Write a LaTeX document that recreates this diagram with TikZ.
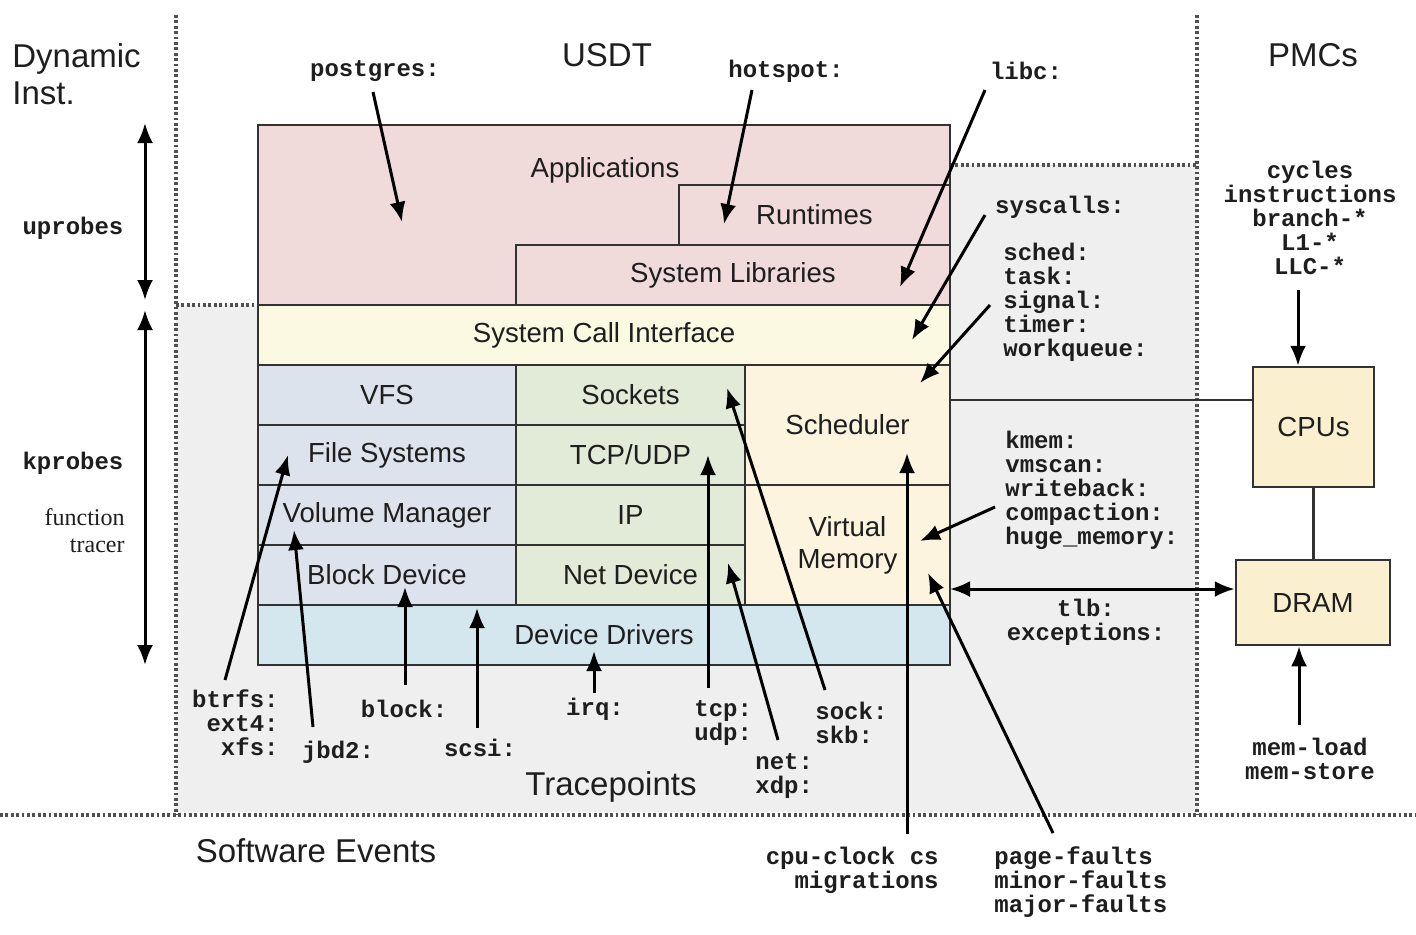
\documentclass[tikz,border=0pt]{standalone}
\usepackage{fontspec}
\setmainfont{Liberation Sans}
\setmonofont{Liberation Mono}
\newfontfamily\serifface{Liberation Serif}
\usetikzlibrary{arrows.meta}

\definecolor{ink}{RGB}{30,30,30}
\definecolor{boxline}{RGB}{50,50,50}
\definecolor{dotline}{RGB}{80,80,80}
\definecolor{tpgray}{RGB}{239,239,239}
\definecolor{appfill}{RGB}{240,218,218}
\definecolor{scifill}{RGB}{252,249,226}
\definecolor{fsfill}{RGB}{220,227,236}
\definecolor{netfill}{RGB}{226,235,215}
\definecolor{cpufill}{RGB}{252,244,222}
\definecolor{drvfill}{RGB}{212,230,238}
\definecolor{hwfill}{RGB}{250,240,208}

\tikzset{
  blk/.style={draw=boxline, line width=1.25pt, inner sep=0pt, text=ink,
              font=\fontsize{13.8}{16}\selectfont, align=center},
  heading/.style={text=ink, inner sep=0pt, font=\fontsize{16.5}{18.5}\selectfont},
  probe/.style={text=ink, inner sep=0pt, font=\fontsize{12}{12}\selectfont\ttfamily\bfseries},
  serifnote/.style={text=ink, inner sep=0pt, font=\fontsize{12}{13.5}\selectfont\serifface},
  arr/.style={draw=black, line width=1.5pt, -{Latex[length=10pt,width=8pt]}},
  darr/.style={draw=black, line width=1.5pt, {Latex[length=10pt,width=8pt]}-{Latex[length=10pt,width=8pt]}},
  link/.style={draw=boxline, line width=1.4pt},
  dots/.style={draw=dotline, line width=1.6pt, dash pattern=on 1.4pt off 1.3pt},
}

% a block drawn from its corners: name, x1, y1, x2, y2, fill, text
\newcommand\layerbox[7]{%
  \node[blk, fill=#6, minimum width={(#4-#2)*0.5pt}, minimum height={(#5-#3)*0.5pt}]
    (#1) at ({(#2+#4)/2},{(#3+#5)/2}) {#7};}

\begin{document}
\begin{tikzpicture}[x=0.5pt,y=-0.5pt]
\useasboundingbox (0,0) rectangle (1416,934);
\fill[white] (0,0) rectangle (1416,934);

% tracepoint region
\fill[tpgray] (176,305) -- (950,305) -- (950,165) -- (1197,165) -- (1197,812) -- (176,812) -- cycle;
\draw[dots] (176,15) -- (176,815);
\draw[dots] (1197,15) -- (1197,815);
\draw[dots] (0,815) -- (1416,815);
\draw[dots] (176,305) -- (258,305);
\draw[dots] (950,165) -- (1197,165);

% software stack
\layerbox{app}{258}{125}{950}{305}{appfill}{}
\node[blk, draw=none, fill=none] (apptext) at (605,170) {Applications};
\layerbox{rt}{679}{185}{950}{245}{appfill}{Runtimes}
\layerbox{slib}{516}{245}{950}{305}{appfill}{System Libraries}
\layerbox{sci}{258}{305}{950}{365}{scifill}{System Call Interface}
\layerbox{vfs}{258}{365}{516}{425}{fsfill}{VFS}
\layerbox{fs}{258}{425}{516}{485}{fsfill}{File Systems}
\layerbox{vm}{258}{485}{516}{545}{fsfill}{Volume Manager}
\layerbox{bd}{258}{545}{516}{605}{fsfill}{Block Device}
\layerbox{sock}{516}{365}{745}{425}{netfill}{Sockets}
\layerbox{tcp}{516}{425}{745}{485}{netfill}{TCP/UDP}
\layerbox{ip}{516}{485}{745}{545}{netfill}{IP}
\layerbox{nd}{516}{545}{745}{605}{netfill}{Net Device}
\layerbox{sched}{745}{365}{950}{485}{cpufill}{Scheduler}
\layerbox{vmem}{745}{485}{950}{605}{cpufill}{Virtual\\Memory}
\layerbox{drv}{258}{605}{950}{665}{drvfill}{Device Drivers}

% hardware
\layerbox{cpus}{1253}{367}{1374}{487}{hwfill}{CPUs}
\layerbox{dram}{1236}{560}{1390}{645}{hwfill}{DRAM}

% headings
\node[heading, anchor=west, align=left] (dyn) at (12,74) {Dynamic\\Inst.};
\node[heading] (usdt) at (607,55) {USDT};
\node[heading] (pmcs) at (1313,55) {PMCs};
\node[heading] (tp) at (611,787) {Tracepoints};
\node[heading] (swev) at (316,851) {Software Events};

% probe labels
\node[probe] (uprobes) at (73,228) {uprobes};
\node[probe] (kprobes) at (73,463) {kprobes};
\node[serifnote, anchor=east, align=right] (ftrace) at (125,531) {function\\tracer};
\node[probe] (postgres) at (375,71) {postgres:};
\node[probe] (hotspot) at (786,71) {hotspot:};
\node[probe] (libc) at (1026,71) {libc:};
\node[probe] (syscalls) at (1060,207) {syscalls:};
\node[probe, anchor=west, align=left] (schedtp) at (1003,302) {sched:\\task:\\signal:\\timer:\\workqueue:};
\node[probe, anchor=west, align=left] (kmem) at (1005,490) {kmem:\\vmscan:\\writeback:\\compaction:\\huge\_memory:};
\node[probe, align=center] (tlb) at (1086,622) {tlb:\\exceptions:};
\node[probe, align=center] (pmcev) at (1310,218) {cycles\\instructions\\branch-*\\L1-*\\LLC-*};
\node[probe, align=center] (memev) at (1310,759) {mem-load\\mem-store};
\node[probe, anchor=east, align=right] (fstp) at (279,723) {btrfs:\\ext4:\\xfs:};
\node[probe] (jbd) at (338,752) {jbd2:};
\node[probe] (blocktp) at (404,709) {block:};
\node[probe] (scsi) at (480,748) {scsi:};
\node[probe] (irq) at (595,709) {irq:};
\node[probe, anchor=west, align=left] (tcptp) at (694,723) {tcp:\\udp:};
\node[probe, anchor=west, align=left] (nettp) at (755,776) {net:\\xdp:};
\node[probe, anchor=west, align=left] (socktp) at (815,723) {sock:\\skb:};
\node[probe, anchor=east, align=right] (cpuclk) at (939,870) {cpu-clock cs\\migrations};
\node[probe, anchor=west, align=left] (pf) at (994,882) {page-faults\\minor-faults\\major-faults};

% connector end points
\coordinate (pgS) at (373,92);   \coordinate (pgT) at (402,222);
\coordinate (hsS) at (752,90);   \coordinate (hsT) at (724,224);
\coordinate (lcS) at (985,90);   \coordinate (lcT) at (900,287);
\coordinate (scS) at (985,215);  \coordinate (scT) at (912,340);
\coordinate (sdS) at (990,305);  \coordinate (sdT) at (920,383);
\coordinate (kmS) at (995,507);  \coordinate (kmT) at (920,541);
\coordinate (tlbrow) at (950,589);
\coordinate (cyS) at (1298,290);
\coordinate (mmS) at (1299,725);
\coordinate (btS) at (225,680);  \coordinate (btT) at (288,455);
\coordinate (jbS) at (313,727);  \coordinate (jbT) at (294,530);
\coordinate (blS) at (405,685);  \coordinate (blT) at (405,587);
\coordinate (scsS) at (477,728); \coordinate (scsT) at (477,608);
\coordinate (irS) at (594,693);  \coordinate (irT) at (594,651);
\coordinate (tcS) at (708,688);  \coordinate (tcT) at (708,455);
\coordinate (ntS) at (778,740);  \coordinate (ntT) at (728,563);
\coordinate (skS) at (825,690);  \coordinate (skT) at (727,388);
\coordinate (ccS) at (907,834);  \coordinate (ccT) at (907,453);
\coordinate (pfS) at (1053,833); \coordinate (pfT) at (928,573);
\coordinate (upA) at (145,123);  \coordinate (upB) at (145,300);
\coordinate (kpA) at (145,310);  \coordinate (kpB) at (145,665);
\coordinate (cpuline) at (950,400);

% connectors
\draw[link] (cpuline) -- (cpuline -| cpus.west);
\draw[link] (cpus.south) -- (cpus.south |- dram.north);
\draw[darr] (tlbrow) -- (tlbrow -| dram.west);
\draw[arr] (cyS) -- (cyS |- cpus.north);
\draw[arr] (mmS) -- (mmS |- dram.south);
\draw[darr] (upA) -- (upB);
\draw[darr] (kpA) -- (kpB);
\draw[arr] (pgS) -- (pgT);
\draw[arr] (hsS) -- (hsT);
\draw[arr] (lcS) -- (lcT);
\draw[arr] (scS) -- (scT);
\draw[arr] (sdS) -- (sdT);
\draw[arr] (kmS) -- (kmT);
\draw[arr] (btS) -- (btT);
\draw[arr] (jbS) -- (jbT);
\draw[arr] (blS) -- (blT);
\draw[arr] (scsS) -- (scsT);
\draw[arr] (irS) -- (irT);
\draw[arr] (tcS) -- (tcT);
\draw[arr] (ntS) -- (ntT);
\draw[arr] (skS) -- (skT);
\draw[arr] (ccS) -- (ccT);
\draw[arr] (pfS) -- (pfT);
\end{tikzpicture}
\end{document}
